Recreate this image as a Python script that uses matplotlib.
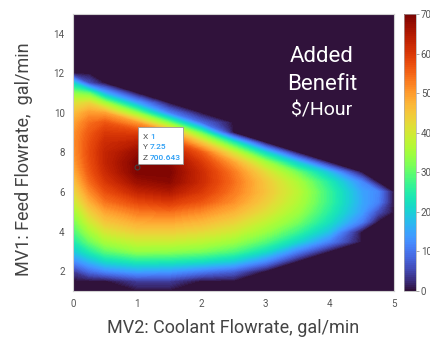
import numpy as np
import matplotlib.pyplot as plt
from matplotlib.patches import Rectangle

plt.rcParams['font.family'] = ['Roboto', 'DejaVu Sans']

# MV2 coolant flowrate (x, gal/min) and MV1 feed flowrate (y, gal/min) grid
coolant_flow = [0, 0.25, 0.5, 1, 1.5, 2, 2.5, 3, 3.5, 4, 4.5, 4.75, 5]
feed_flow = [1.0, 1.5, 2.0, 2.5, 3.0, 3.5, 4.0, 4.5, 5.0, 5.5, 6.0, 6.5, 7.0,
             7.5, 8.0, 8.5, 9.0, 9.5, 10.0, 10.5, 11.0, 11.5, 12.0, 12.5,
             13.0, 13.5, 14.0, 14.5, 15.0]

# added benefit, $/hour (one row per feed flowrate, bottom to top)
benefit = [
    [0, 0, 0, 0, 0, 0, 0, 0, 0, 0, 0, 0, 0],
    [0, 0, 0, 40, 40, 0, 0, 0, 0, 0, 0, 0, 0],
    [40, 90, 120, 150, 140, 110, 80, 0, 0, 0, 0, 0, 0],
    [120, 170, 215, 245, 240, 225, 195, 120, 0, 0, 0, 0, 0],
    [190, 245, 295, 335, 330, 315, 285, 220, 110, 0, 0, 0, 0],
    [240, 305, 355, 390, 390, 375, 345, 290, 210, 110, 0, 0, 0],
    [280, 350, 405, 440, 440, 425, 395, 340, 270, 180, 0, 0, 0],
    [310, 395, 450, 485, 490, 470, 435, 380, 315, 225, 110, 0, 0],
    [345, 435, 490, 530, 540, 515, 475, 415, 345, 250, 145, 60, 0],
    [385, 475, 535, 580, 600, 565, 510, 440, 365, 265, 155, 115, 0],
    [420, 510, 570, 630, 650, 600, 530, 455, 375, 265, 150, 120, 0],
    [450, 540, 600, 670, 685, 620, 540, 450, 360, 245, 120, 0, 0],
    [475, 560, 620, 695, 695, 620, 530, 420, 310, 180, 0, 0, 0],
    [495, 570, 630, 695, 685, 600, 490, 350, 190, 0, 0, 0, 0],
    [505, 575, 630, 675, 655, 560, 400, 210, 0, 0, 0, 0, 0],
    [510, 570, 620, 640, 600, 450, 250, 0, 0, 0, 0, 0, 0],
    [505, 560, 600, 590, 510, 300, 0, 0, 0, 0, 0, 0, 0],
    [490, 540, 565, 500, 320, 90, 0, 0, 0, 0, 0, 0, 0],
    [460, 500, 490, 330, 110, 0, 0, 0, 0, 0, 0, 0, 0],
    [410, 430, 350, 150, 0, 0, 0, 0, 0, 0, 0, 0, 0],
    [330, 300, 160, 0, 0, 0, 0, 0, 0, 0, 0, 0, 0],
    [210, 60, 0, 0, 0, 0, 0, 0, 0, 0, 0, 0, 0],
    [0, 0, 0, 0, 0, 0, 0, 0, 0, 0, 0, 0, 0],
    [0, 0, 0, 0, 0, 0, 0, 0, 0, 0, 0, 0, 0],
    [0, 0, 0, 0, 0, 0, 0, 0, 0, 0, 0, 0, 0],
    [0, 0, 0, 0, 0, 0, 0, 0, 0, 0, 0, 0, 0],
    [0, 0, 0, 0, 0, 0, 0, 0, 0, 0, 0, 0, 0],
    [0, 0, 0, 0, 0, 0, 0, 0, 0, 0, 0, 0, 0],
    [0, 0, 0, 0, 0, 0, 0, 0, 0, 0, 0, 0, 0],
]

# data tip shown on the chart
tip_x, tip_y, tip_z = 1, 7.25, 700.643

x_ticks = [0, 1, 2, 3, 4, 5]
y_ticks = [2, 4, 6, 8, 10, 12, 14]
cbar_ticks = [0, 100, 200, 300, 400, 500, 600, 700]

fig = plt.figure(figsize=(4.31, 3.37), dpi=100)
ax = fig.add_axes([0.1694, 0.1365, 0.7448, 0.822])
cax = fig.add_axes([0.9374, 0.1365, 0.0278, 0.822])

levels = np.linspace(0, 700, 141)
cs = ax.contourf(coolant_flow, feed_flow, np.array(benefit), levels=levels,
                 cmap='turbo', antialiased=False)
ax.set_xlim(0, 5)
ax.set_ylim(1, 15)
ax.set_xticks(x_ticks)
ax.set_yticks(y_ticks)
ax.tick_params(length=0, labelsize=7, labelcolor='#555555', pad=6)
for sp in ax.spines.values():
    sp.set_color('#d0d0d0')
    sp.set_linewidth(0.8)

ax.set_xlabel('MV2: Coolant Flowrate, gal/min', fontsize=13, color='#444444')
ax.set_ylabel('MV1: Feed Flowrate,  gal/min', fontsize=13, color='#444444')
ax.xaxis.set_label_coords(0.5, -0.1)
ax.yaxis.set_label_coords(-0.125, 0.475)

# colour bar labels run past the right edge, as in the original screenshot
cbar = fig.colorbar(cs, cax=cax, ticks=cbar_ticks)
cbar.ax.tick_params(length=2, width=0.5, color='#888888', labelsize=7,
                    labelcolor='#555555', pad=1.5)
cbar.outline.set_linewidth(0.5)
cbar.outline.set_edgecolor('#aaaaaa')

# annotation text
ax.text(0.776, 0.845, 'Added', transform=ax.transAxes, ha='center', va='center',
        color='white', fontsize=16)
ax.text(0.776, 0.744, 'Benefit', transform=ax.transAxes, ha='center', va='center',
        color='white', fontsize=16)
ax.text(0.776, 0.653, '$/Hour', transform=ax.transAxes, ha='center', va='center',
        color='white', fontsize=14)

# data tip box
ax.add_patch(Rectangle((tip_x + 0.02, tip_y + 0.17), 0.70, 1.88, facecolor='white',
                       edgecolor='#999999', linewidth=0.6, zorder=5))
ax.plot([tip_x], [tip_y], marker='o', ms=3.5, mfc='none', mec='#444444', mew=0.8, zorder=6)
rows = [('X', f'{tip_x}'), ('Y', f'{tip_y}'), ('Z', f'{tip_z}')]
for i, (lab, val) in enumerate(rows):
    yy = tip_y + 1.55 - i * 0.53
    ax.text(tip_x + 0.09, yy, lab, color='#555555', fontsize=6, va='center', zorder=7)
    ax.text(tip_x + 0.2, yy, val, color='#2a9df4', fontsize=6, va='center',
            fontweight='medium', zorder=7)

fig.savefig('out.png', dpi=100)
